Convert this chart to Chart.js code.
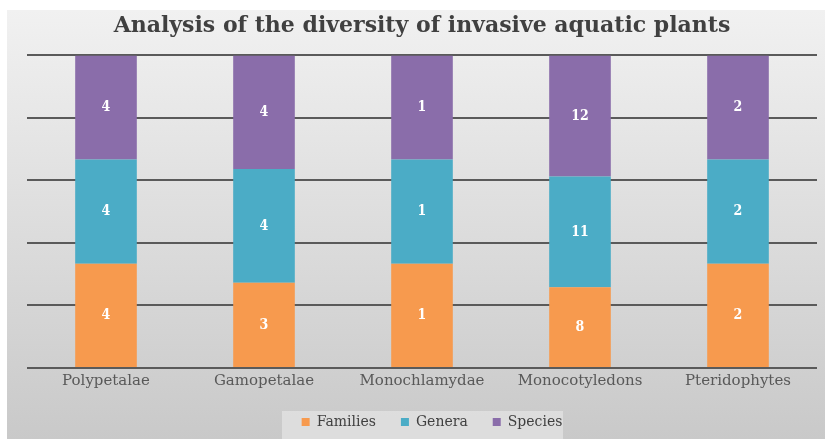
<!doctype html>
<html lang="en">
<head>
<meta charset="utf-8">
<title>Analysis of the diversity of invasive aquatic plants</title>
<script src="https://cdn.jsdelivr.net/npm/chart.js@4.4.1/dist/chart.umd.min.js"></script>
<style>
  html,body{margin:0;background:#fff}
  .wrap{position:relative;width:825px;height:439px}
  .bg{position:absolute;left:7px;top:10px;right:0;bottom:0;background:linear-gradient(#f1f1f1,#c9c9c9)}
  canvas{position:absolute;left:0;top:0}
</style>
</head>
<body>
<div class="wrap">
  <div class="bg"></div>
  <canvas id="chart" width="825" height="439"></canvas>
</div>
<script>
  // raw counts per group, shown as labels; bars are stacked to 100%
  const groups = ["Polypetalae", "Gamopetalae", "Monochlamydae", "Monocotyledons", "Pteridophytes"];
  const families = [4, 3, 1, 8, 2];
  const genera = [4, 4, 1, 11, 2];
  const species = [4, 4, 1, 12, 2];

  const FONT = "'DejaVu Serif', 'Liberation Serif', serif";
  const totals = groups.map((_, i) => families[i] + genera[i] + species[i]);
  const pct = (arr) => arr.map((v, i) => v / totals[i] * 100);

  // white count labels in the middle of each segment
  const segLabels = {
    id: "segLabels",
    afterDatasetsDraw(chart) {
      const ctx = chart.ctx;
      ctx.save();
      ctx.font = "condensed bold 14px " + FONT;
      ctx.fillStyle = "#ffffff";
      ctx.textAlign = "center";
      ctx.textBaseline = "middle";
      chart.data.datasets.forEach((ds, di) => {
        chart.getDatasetMeta(di).data.forEach((bar, i) => {
          ctx.fillText(String(ds.counts[i]), bar.x, (bar.y + bar.base) / 2);
        });
      });
      ctx.restore();
    }
  };

  // lighter panel behind the legend, legend nudged a little right
  const legendPanel = {
    id: "legendPanel",
    afterLayout(chart) {
      chart.legend.left += 10;
      chart.legend.right += 10;
    },
    beforeDraw(chart) {
      const ctx = chart.ctx;
      ctx.save();
      ctx.fillStyle = "rgba(236,236,236,0.55)";
      ctx.fillRect(282, 411, 281, 28);
      ctx.restore();
    }
  };

  new Chart(document.getElementById("chart"), {
    type: "bar",
    data: {
      labels: groups,
      datasets: [
        { label: "Families", data: pct(families), counts: families, backgroundColor: "#f79a4e" },
        { label: "Genera", data: pct(genera), counts: genera, backgroundColor: "#4bacc6" },
        { label: "Species", data: pct(species), counts: species, backgroundColor: "#8a6daa" }
      ]
    },
    options: {
      responsive: false,
      animation: false,
      layout: { padding: { left: 27, right: 8, top: 0, bottom: 0 } },
      datasets: { bar: { categoryPercentage: 1, barPercentage: 0.39 } },
      plugins: {
        title: {
          display: true,
          text: "Analysis of the diversity of invasive aquatic plants",
          color: "#404040",
          font: { family: FONT, size: 22, weight: "bold", style: "condensed" },
          padding: { top: 13, bottom: 16 }
        },
        legend: {
          position: "bottom",
          labels: {
            color: "#404040",
            font: { family: FONT, size: 14, style: "condensed" },
            boxWidth: 8,
            boxHeight: 8,
            padding: 25
          }
        },
        tooltip: { enabled: false }
      },
      scales: {
        x: {
          stacked: true,
          grid: { display: false, drawTicks: false },
          border: { display: false },
          ticks: { color: "#595959", font: { family: FONT, size: 15, style: "condensed" }, padding: 4 },
          afterFit: (s) => { s.height = 22; }
        },
        y: {
          stacked: true,
          min: 0,
          max: 100,
          ticks: { display: false, stepSize: 20 },
          grid: { color: "#5a5a5a", lineWidth: 2, drawTicks: false },
          border: { display: false }
        }
      }
    },
    plugins: [legendPanel, segLabels]
  });
</script>
</body>
</html>
